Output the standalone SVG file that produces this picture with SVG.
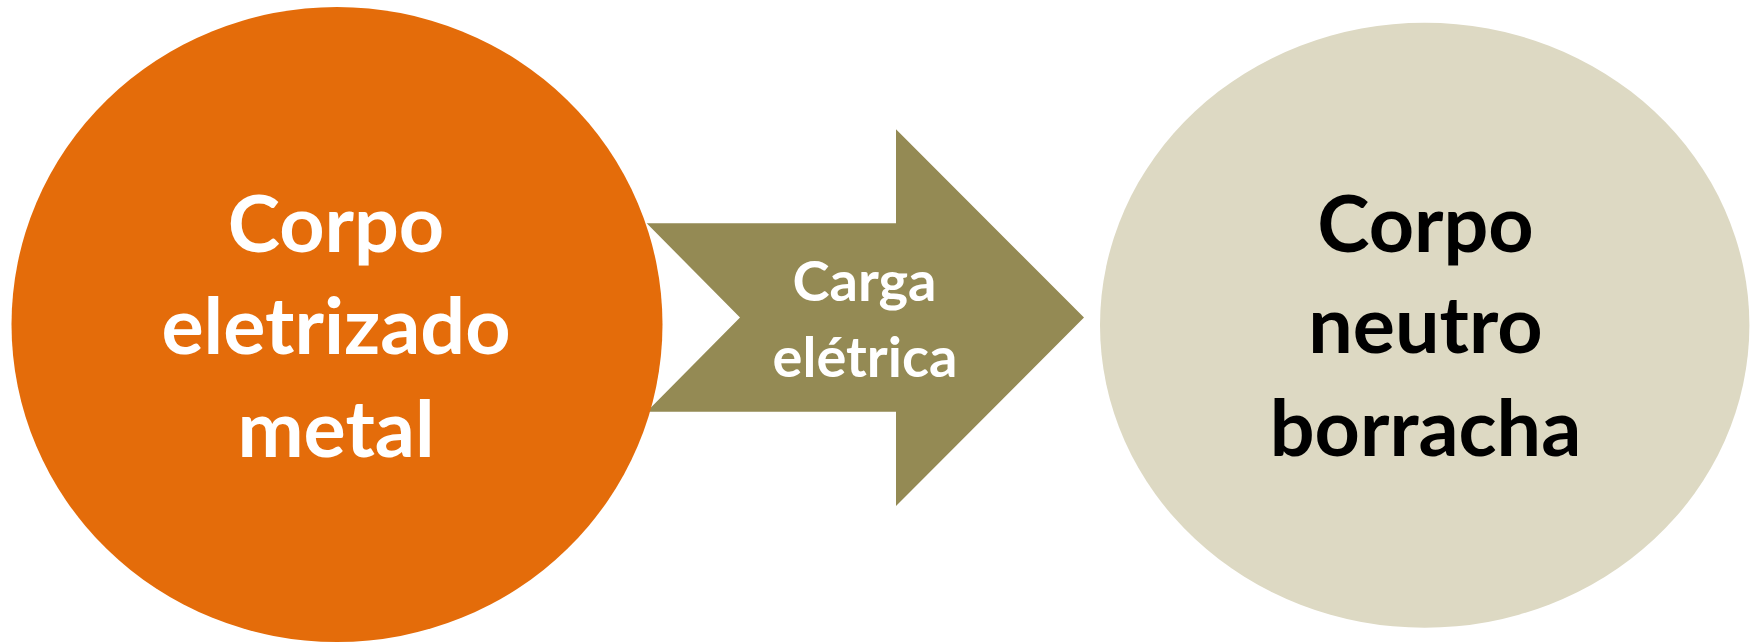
<svg xmlns="http://www.w3.org/2000/svg" width="1760" height="644" viewBox="0 0 1760 644">
<style>
.lbl{font-family:Lato,"Open Sans","Liberation Sans",sans-serif;font-weight:bold;text-anchor:middle}
.big{font-size:79px}
.mid{font-size:56px}
</style>
<rect width="1760" height="644" fill="#FFFFFF"/>
<g id="connectors">
<g id="arrow-carga">
<polygon points="646.7,223.3 896,223.3 896,129.3 1084,317.5 896,506 896,411.7 646.7,411.7 740,317.5" fill="#948A54"/>
<text class="lbl mid" fill="#FFFFFF"><tspan x="864.5" y="300.7">Carga</tspan><tspan x="865" y="376.7">elétrica</tspan></text>
</g>
</g>
<g id="node-eletrizado">
<ellipse cx="337" cy="324.5" rx="325.5" ry="317.5" fill="#E46C0A"/>
<text class="lbl big" fill="#FFFFFF"><tspan x="336" y="251.7">Corpo</tspan><tspan x="336" y="354.3">eletrizado</tspan><tspan x="336" y="456.7">metal</tspan></text>
</g>
<g id="node-neutro">
<ellipse cx="1424.7" cy="325.2" rx="324.7" ry="302.5" fill="#DDD9C3"/>
<text class="lbl big" fill="#000000"><tspan x="1425.5" y="251.7">Corpo</tspan><tspan x="1425.5" y="353.3">neutro</tspan><tspan x="1425.5" y="456">borracha</tspan></text>
</g>
</svg>
